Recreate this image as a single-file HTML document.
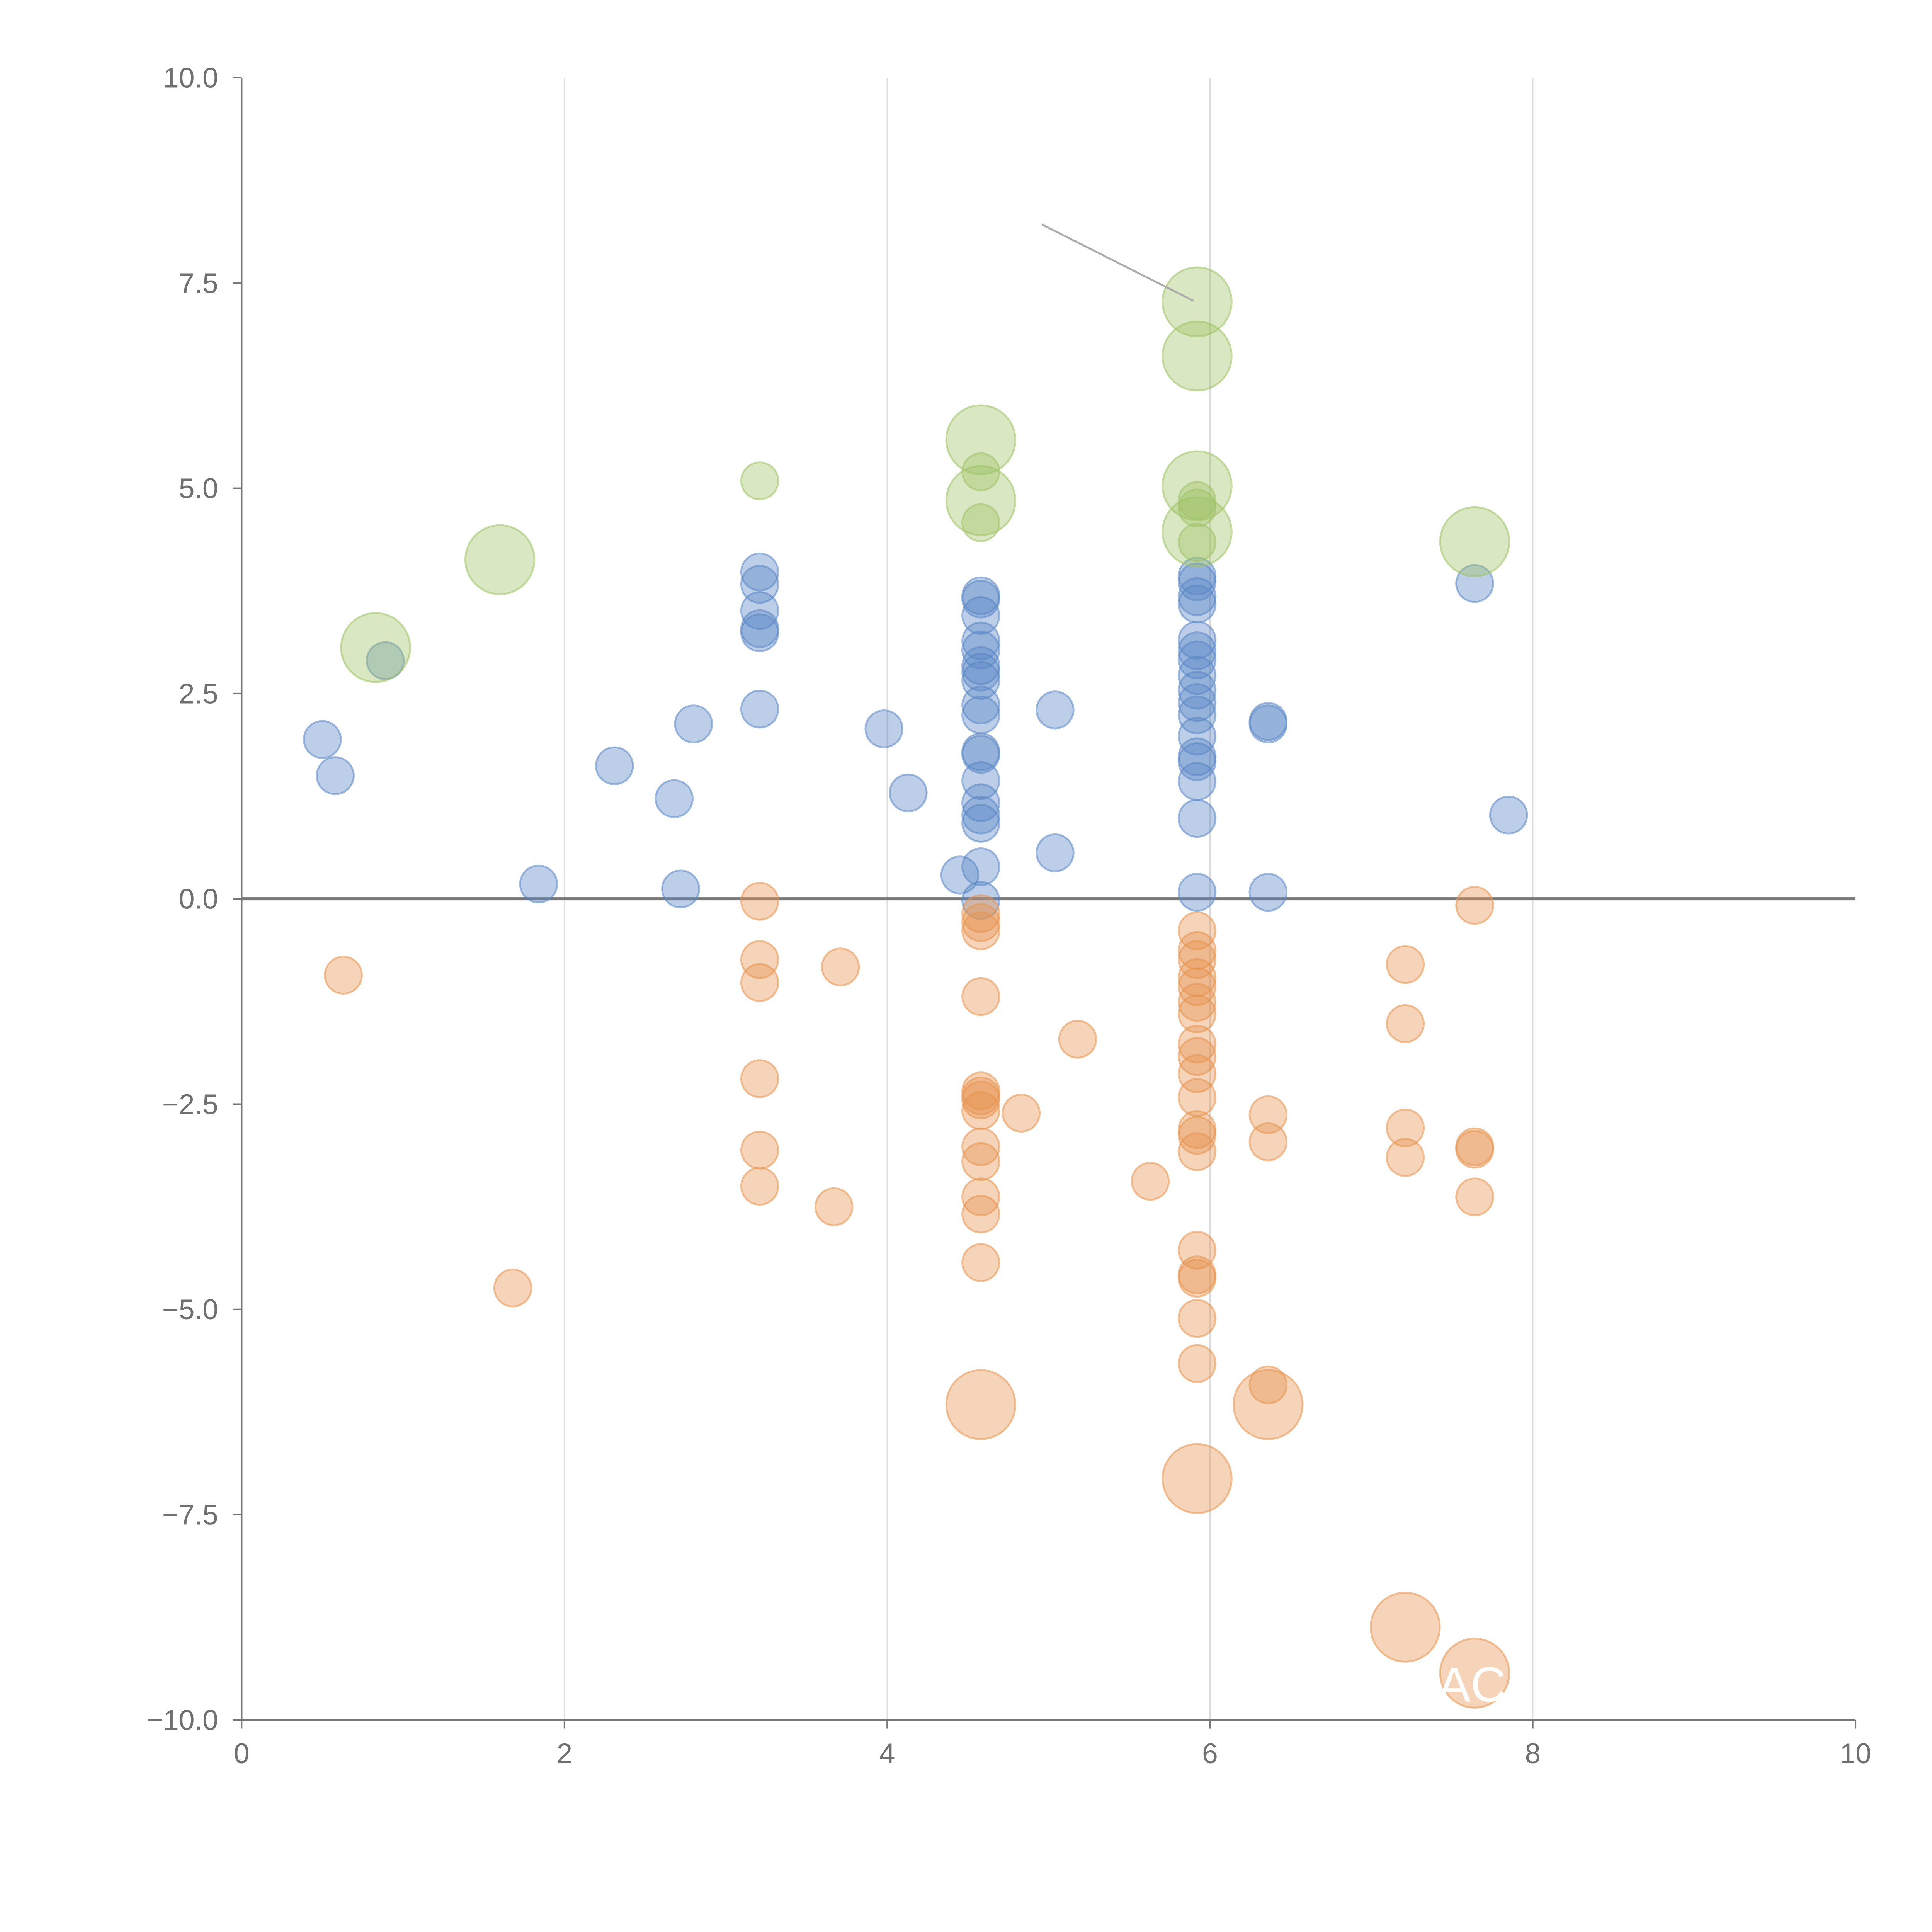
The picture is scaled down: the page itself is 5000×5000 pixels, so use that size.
<!DOCTYPE html>
<html><head><meta charset="utf-8"><style>html,body{margin:0;padding:0;background:#fff}svg{display:block}</style></head>
<body>
<svg id="chart" width="5000" height="5000" viewBox="0 0 1567 1567" xmlns="http://www.w3.org/2000/svg" font-family="Liberation Sans, sans-serif">
<g id="grid"></g>
<g id="axes"></g>
<g id="marks"></g>
<g id="anno"></g>
</svg>
<script>
const xTicks=[0,2,4,6,8,10];
const yTicks=[10,7.5,5,2.5,0,-2.5,-5,-7.5,-10];
const yTickLabels=["10.0","7.5","5.0","2.5","0.0","\u22122.5","\u22125.0","\u22127.5","\u221210.0"];
const blueX=[0.50,0.58,0.89,1.84,2.31,2.68,2.72,2.80,3.21,3.21,3.21,3.21,3.21,3.21,3.98,4.13,4.45,4.58,4.58,4.58,4.58,4.58,4.58,4.58,4.58,4.58,4.58,4.58,4.58,4.58,4.58,4.58,4.58,4.58,4.58,5.04,5.04,5.92,5.92,5.92,5.92,5.92,5.92,5.92,5.92,5.92,5.92,5.92,5.92,5.92,5.92,5.92,5.92,5.92,6.36,6.36,6.36,7.64,7.85];
const blueY=[1.94,1.50,2.90,0.18,1.62,1.22,0.12,2.13,3.98,3.83,3.51,3.29,3.24,2.31,2.07,1.29,0.29,3.69,3.65,3.45,3.14,3.03,2.84,2.76,2.66,2.36,2.24,1.79,1.76,1.44,1.17,1.02,0.92,0.39,-0.02,2.30,0.56,3.93,3.86,3.68,3.59,3.15,3.02,2.91,2.72,2.54,2.39,2.24,1.98,1.73,1.67,1.43,0.98,0.08,2.16,2.13,0.08,3.84,1.02];
const orangeX=[0.63,1.68,3.21,3.21,3.21,3.21,3.21,3.21,3.67,3.71,4.58,4.58,4.58,4.58,4.58,4.58,4.58,4.58,4.58,4.58,4.58,4.58,4.58,4.58,4.83,5.18,5.63,5.92,5.92,5.92,5.92,5.92,5.92,5.92,5.92,5.92,5.92,5.92,5.92,5.92,5.92,5.92,5.92,5.92,5.92,5.92,5.92,6.36,6.36,6.36,6.36,7.21,7.21,7.21,7.21,7.21,7.64,7.64,7.64,7.64,7.64];
const orangeY=[-0.93,-4.74,-0.03,-0.74,-1.02,-2.19,-3.06,-3.50,-3.75,-0.83,-0.18,-0.29,-0.39,-1.19,-2.34,-2.40,-2.45,-2.58,-3.02,-3.20,-3.63,-3.84,-4.43,-6.16,-2.61,-1.71,-3.44,-0.39,-0.63,-0.74,-0.96,-1.07,-1.26,-1.40,-1.77,-1.92,-2.13,-2.42,-2.81,-2.88,-3.08,-4.28,-4.58,-4.62,-5.11,-5.66,-7.06,-2.63,-2.96,-5.92,-6.16,-0.80,-1.52,-2.79,-3.15,-8.87,-0.08,-3.02,-3.05,-3.63,-9.43];
const orangeBig=[0,0,0,0,0,0,0,0,0,0,0,0,0,0,0,0,0,0,0,0,0,0,0,1,0,0,0,0,0,0,0,0,0,0,0,0,0,0,0,0,0,0,0,0,0,0,1,0,0,0,1,0,0,0,0,1,0,0,0,0,1];
const greenX=[0.83,1.60,3.21,4.58,4.58,4.58,4.58,5.92,5.92,5.92,5.92,5.92,5.92,5.92,7.64];
const greenY=[3.06,4.13,5.09,5.59,5.20,4.85,4.58,7.27,6.61,5.03,4.85,4.76,4.47,4.34,4.35];
const greenBig=[1,1,0,1,0,1,0,1,1,1,0,0,1,0,1];

const X0=196,X1=1505,Y0=1395,Y1=63;
const sx=v=>X0+(v-0)/(10-0)*(X1-X0);
const sy=v=>Y0-(v+10)/20*(Y0-Y1);
const NS="http://www.w3.org/2000/svg";
function mk(tag,attrs,parent){const e=document.createElementNS(NS,tag);for(const k in attrs)e.setAttribute(k,attrs[k]);parent.appendChild(e);return e;}
const grid=document.getElementById('grid'),axes=document.getElementById('axes'),marks=document.getElementById('marks'),anno=document.getElementById('anno');
xTicks.forEach(t=>{
  if(t>0&&t<10){const g=mk('line',{x1:sx(t),x2:sx(t),y1:Y1,y2:Y0,stroke:'#dddddd','stroke-width':1},grid);
  
  }
  const tk=mk('line',{x1:sx(t),x2:sx(t),y1:Y0,y2:Y0+7,stroke:'#777','stroke-width':1.2},axes);
  
  
  const tx=mk('text',{x:sx(t),y:Y0+35,'text-anchor':'middle','font-size':23,fill:'#707070'},axes);
  tx.textContent=t;
  
  
});
yTicks.forEach((t,i)=>{
  const tk=mk('line',{x1:X0-7,x2:X0,y1:sy(t),y2:sy(t),stroke:'#777','stroke-width':1.2},axes);
  
  
  const tx=mk('text',{x:X0-19,y:sy(t)+8,'text-anchor':'end','font-size':23,fill:'#707070'},axes);
  tx.textContent=yTickLabels[i];
  
  
});
let a=mk('line',{x1:X0,x2:X0,y1:Y1,y2:Y0,stroke:'#777','stroke-width':1.3},axes);


a=mk('line',{x1:X0,x2:X1,y1:Y0,y2:Y0,stroke:'#777','stroke-width':1.3},axes);


a=mk('line',{x1:X0,x2:X1,y1:sy(0),y2:sy(0),stroke:'#777','stroke-width':2.5},axes);



function series(xs,ys,big,color,name){
  xs.forEach((x,i)=>{
    const r=(big&&big[i])?28:15;
    const c=mk('circle',{cx:sx(x),cy:sy(ys[i]),r:r,fill:color,'fill-opacity':0.4,stroke:color,'stroke-opacity':0.55,'stroke-width':1.5},marks);
    
    
  });
}
series(blueX,blueY,null,'#5a87c5','blue-bubble');
series(orangeX,orangeY,orangeBig,'#e5944f','orange-bubble');
series(greenX,greenY,greenBig,'#9fc266','green-bubble');

let l=mk('line',{x1:845,y1:182,x2:968,y2:244,stroke:'#aaaaaa','stroke-width':1.5},anno);


const t=mk('text',{x:1166,y:1380,'font-size':40,fill:'#ffffff'},anno);
t.textContent='AC';


</script>
</body></html>
